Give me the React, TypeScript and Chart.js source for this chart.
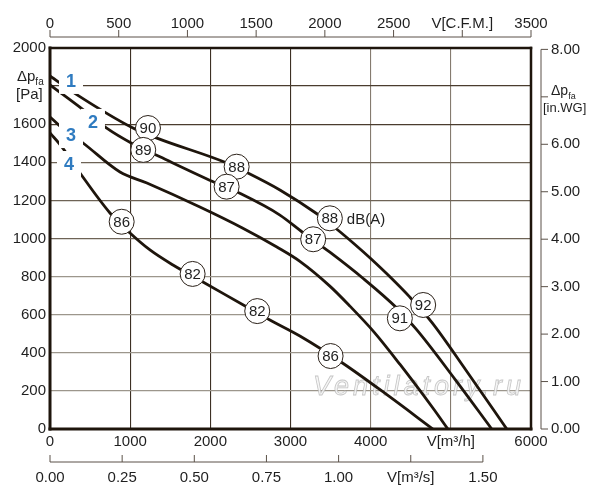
import React, { useEffect, useRef } from 'react';
import { Chart, registerables } from 'chart.js';

Chart.register(...registerables);

const FONT = '"Liberation Sans", Arial, Helvetica, sans-serif';
const INK = '#1f1f1f';
const CURVE = '#1e150c';
const AXIS2 = '#5b5148';

// fan curves, V [m3/h] -> dp [Pa]
const curve1X = [0, 324, 1035, 1334, 2207, 2469, 2868, 3329, 3575, 3800, 4000, 4218, 4489, 4763, 5187, 5698];
const curve1Y = [1853, 1758, 1580, 1527, 1396, 1344, 1255, 1130, 1050, 970, 895, 808, 692, 560, 310, 0];

const curve2X = [0, 416, 707, 1018, 1372, 2036, 2369, 2868, 3158, 3491, 3907, 4323, 4576, 5050, 5510];
const curve2Y = [1806, 1675, 1579, 1500, 1429, 1298, 1237, 1123, 1030, 928, 790, 636, 520, 262, 0];

const curve3X = [0, 125, 416, 873, 1209, 1870, 2400, 2830, 3117, 3491, 3741, 4040, 4364, 4776, 4963];
const curve3Y = [1638, 1590, 1500, 1349, 1291, 1165, 1055, 955, 880, 750, 645, 510, 340, 110, 0];

const curve4X = [0, 150, 374, 748, 998, 1247, 1534, 1908, 2456, 2743, 3117, 3653, 4202, 4776];
const curve4Y = [1554, 1480, 1344, 1134, 1029, 940, 861, 772, 640, 572, 488, 345, 180, 0];

// sound level markers dB(A)
const circleX = [1222, 1163, 2328, 2203, 3491, 3283, 4655, 4364, 894, 1779, 2585, 3500];
const circleY = [1580, 1465, 1377, 1272, 1106, 996, 651, 581, 1088, 814, 619, 383];
const circleText = ['90', '89', '88', '87', '88', '87', '92', '91', '86', '82', '82', '86'];
const unitIndex = 4;
const unitText = 'dB(A)';

// curve numbers
const curveNames = ['1', '2', '3', '4'];
const curveNameX = [262, 536, 262, 237];
const curveNameY = [1827, 1612, 1543, 1391];

// tick labels
const flowTickLabels = ['0', '1000', '2000', '3000', '4000', 'V[m³/h]', '6000'];
const cfmTickLabels = ['0', '500', '1000', '1500', '2000', '2500', 'V[C.F.M.]', '3500'];
const m3sTickLabels = ['0.00', '0.25', '0.50', '0.75', '1.00', 'V[m³/s]', '1.50'];
const paTickLabels = ['0', '200', '400', '600', '800', '1000', '1200', '1400', '1600', '', '2000'];
const inwgTickLabels = ['0.00', '1.00', '2.00', '3.00', '4.00', '5.00', '6.00', '', '8.00'];

const watermark = 'Ventilatory.ru';

const toPoints = (xs: number[], ys: number[]) => xs.map((x, i) => ({ x, y: ys[i] }));

const overlay = {
  id: 'overlay',
  beforeDatasetsDraw(chart: any) {
    const { ctx, scales } = chart;
    ctx.save();
    ctx.font = `italic 27px ${FONT}`;
    (ctx as any).letterSpacing = '4px';
    ctx.textAlign = 'left';
    ctx.textBaseline = 'alphabetic';
    const px = scales.x.getPixelForValue(3280);
    const py = scales.y.getPixelForValue(180);
    ctx.fillStyle = 'rgba(245,245,245,0.85)';
    ctx.fillText(watermark, px, py);
    ctx.strokeStyle = 'rgba(175,175,175,0.7)';
    ctx.lineWidth = 0.8;
    ctx.strokeText(watermark, px, py);
    ctx.restore();
  },
  afterDatasetsDraw(chart: any) {
    const { ctx, scales } = chart;
    const x = scales.x;
    const y = scales.y;
    ctx.save();
    ctx.textAlign = 'center';
    ctx.textBaseline = 'middle';
    // curve numbers on a white patch
    ctx.font = `bold 18px ${FONT}`;
    curveNames.forEach((n, i) => {
      const px = x.getPixelForValue(curveNameX[i]);
      const py = y.getPixelForValue(curveNameY[i]);
      ctx.fillStyle = '#fff';
      ctx.fillRect(px - 12, py - 13, 24, 26);
      ctx.fillStyle = '#2f7bc0';
      ctx.fillText(n, px, py + 1);
    });
    // numbers in circles
    const meta = chart.getDatasetMeta(4);
    ctx.font = `15px ${FONT}`;
    ctx.fillStyle = INK;
    meta.data.forEach((pt: any, i: number) => {
      ctx.fillText(circleText[i], pt.x, pt.y + 1);
    });
    const u = meta.data[unitIndex];
    ctx.textAlign = 'left';
    ctx.fillText(unitText, u.x + 17, u.y + 2);
    ctx.restore();
  },
  afterDraw(chart: any) {
    const { ctx, scales, chartArea } = chart;
    const { left, right, top, bottom } = chartArea;
    ctx.save();
    const line = (x1: number, y1: number, x2: number, y2: number, w: number, c: string) => {
      ctx.beginPath();
      ctx.lineWidth = w;
      ctx.strokeStyle = c;
      ctx.moveTo(x1, y1);
      ctx.lineTo(x2, y2);
      ctx.stroke();
    };
    // frame
    ctx.lineCap = 'square';
    line(left, top, right, top, 2.5, CURVE);
    line(right, top, right, bottom, 2.5, CURVE);
    line(left, top, left, bottom, 3, CURVE);
    line(left, bottom, right, bottom, 3, CURVE);
    ctx.lineCap = 'butt';

    // top CFM axis
    const s2 = scales.x2;
    const yTop = top - 11;
    const t2 = s2.ticks;
    line(s2.getPixelForValue(t2[0].value), yTop, s2.getPixelForValue(t2[t2.length - 1].value), yTop, 1, AXIS2);
    t2.forEach((t: any) => {
      const p = s2.getPixelForValue(t.value);
      line(p, yTop, p, yTop - 7, 1, AXIS2);
    });
    // right in.WG axis
    const sr = scales.yR;
    const xR = right + 10;
    const tr = sr.ticks;
    line(xR, sr.getPixelForValue(tr[0].value), xR, sr.getPixelForValue(tr[tr.length - 1].value), 1, AXIS2);
    tr.forEach((t: any) => {
      const p = sr.getPixelForValue(t.value);
      line(xR, p, xR + 7, p, 1, AXIS2);
    });
    // bottom m3/s axis
    const s3 = scales.x3;
    const yB = bottom + 33;
    const t3 = s3.ticks;
    line(s3.getPixelForValue(t3[0].value), yB, s3.getPixelForValue(t3[t3.length - 1].value), yB, 1, AXIS2);
    t3.forEach((t: any) => {
      const p = s3.getPixelForValue(t.value);
      line(p, yB, p, yB - 7, 1, AXIS2);
    });

    // pressure axis titles
    ctx.fillStyle = INK;
    ctx.textAlign = 'left';
    ctx.textBaseline = 'alphabetic';
    const yl = scales.y.getPixelForValue(1800);
    ctx.font = `15px ${FONT}`;
    ctx.fillText('Δp', 17, yl - 5);
    const wl = ctx.measureText('Δp').width;
    ctx.fillText('[Pa]', 16, yl + 13);
    ctx.font = `10px ${FONT}`;
    ctx.fillText('fa', 17 + wl, yl - 1);

    const yr = sr.getPixelForValue(7);
    ctx.font = `14px ${FONT}`;
    ctx.fillText('Δp', 551, yr - 2);
    const wr = ctx.measureText('Δp').width;
    ctx.font = `13px ${FONT}`;
    ctx.fillText('[in.WG]', 543, yr + 15);
    ctx.font = `9px ${FONT}`;
    ctx.fillText('fa', 551 + wr, yr + 2);
    ctx.restore();
  },
};

const tickFont = { family: FONT, size: 15 };

const App: React.FC = () => {
  const canvasRef = useRef<HTMLCanvasElement>(null);

  useEffect(() => {
    const canvas = canvasRef.current;
    if (!canvas) return;

    const lineSet = (xs: number[], ys: number[]) => ({
      type: 'line' as const,
      data: toPoints(xs, ys),
      borderColor: CURVE,
      borderWidth: 2.8,
      pointRadius: 0,
      fill: false,
      cubicInterpolationMode: 'monotone' as const,
      order: 1,
    });

    const chart = new Chart(canvas, {
      type: 'line',
      data: {
        datasets: [
          lineSet(curve1X, curve1Y),
          lineSet(curve2X, curve2Y),
          lineSet(curve3X, curve3Y),
          lineSet(curve4X, curve4Y),
          {
            type: 'scatter' as const,
            data: toPoints(circleX, circleY),
            showLine: false,
            pointRadius: 12.5,
            pointBackgroundColor: '#ffffff',
            pointBorderColor: '#2a2018',
            pointBorderWidth: 1,
            order: 0,
          } as any,
        ],
      },
      options: {
        responsive: false,
        animation: false,
        events: [],
        layout: { padding: 0 },
        plugins: { legend: { display: false }, tooltip: { enabled: false } },
        scales: {
          x: {
            type: 'linear',
            position: 'bottom',
            min: 0,
            max: 6000,
            weight: 0,
            border: { display: false },
            grid: {
              drawTicks: false,
              lineWidth: 1.1,
              color: (c: any) => (c.tick && c.tick.value <= 3000 ? '#3d3024' : '#857b6f'),
            },
            ticks: {
              stepSize: 1000,
              padding: 4,
              color: INK,
              font: tickFont,
              maxRotation: 0,
              callback: (_v: any, i: number) => flowTickLabels[i],
            },
            afterFit: (s: any) => { s.height = 22; },
          },
          x3: {
            type: 'linear',
            position: 'bottom',
            min: 0,
            max: 6000 / 3600,
            weight: 1,
            border: { display: false },
            grid: { display: false, drawTicks: false },
            ticks: {
              stepSize: 0.25,
              includeBounds: false,
              padding: 18,
              color: INK,
              font: tickFont,
              maxRotation: 0,
              autoSkip: false,
              callback: (_v: any, i: number) => m3sTickLabels[i],
            },
            afterFit: (s: any) => { s.height = 49; },
          },
          x2: {
            type: 'linear',
            position: 'top',
            min: 0,
            max: 6000 / 1.69901,
            border: { display: false },
            grid: { display: false, drawTicks: false },
            ticks: {
              stepSize: 500,
              includeBounds: false,
              padding: 15,
              color: INK,
              font: tickFont,
              maxRotation: 0,
              autoSkip: false,
              callback: (_v: any, i: number) => cfmTickLabels[i],
            },
            afterFit: (s: any) => { s.height = 48; },
          },
          y: {
            type: 'linear',
            position: 'left',
            min: 0,
            max: 2000,
            border: { display: false },
            grid: {
              drawTicks: false,
              lineWidth: 1.3,
              color: (c: any) => {
                const v = c.tick ? c.tick.value : 0;
                if (v >= 1600) return '#4a3c2e';
                if (v >= 1000) return '#6e6356';
                return '#9c968c';
              },
            },
            ticks: {
              stepSize: 200,
              padding: 4,
              color: INK,
              font: tickFont,
              autoSkip: false,
              callback: (_v: any, i: number) => paTickLabels[i],
            },
            afterFit: (s: any) => { s.width = 50; },
          },
          yR: {
            type: 'linear',
            position: 'right',
            min: 0,
            max: 2000 / 249.089,
            border: { display: false },
            grid: { display: false, drawTicks: false },
            ticks: {
              stepSize: 1,
              includeBounds: false,
              padding: 20,
              color: INK,
              font: tickFont,
              autoSkip: false,
              callback: (_v: any, i: number) => inwgTickLabels[i],
            },
            afterFit: (s: any) => { s.width = 69; },
          },
        },
      } as any,
      plugins: [overlay],
    });

    return () => {
      chart.destroy();
    };
  }, []);

  return (
    <div style={{ position: 'fixed', left: 0, top: 0, width: 600, height: 500, background: '#fff' }}>
      <canvas ref={canvasRef} width={600} height={500} style={{ display: 'block', width: 600, height: 500 }} />
    </div>
  );
};

export default App;
